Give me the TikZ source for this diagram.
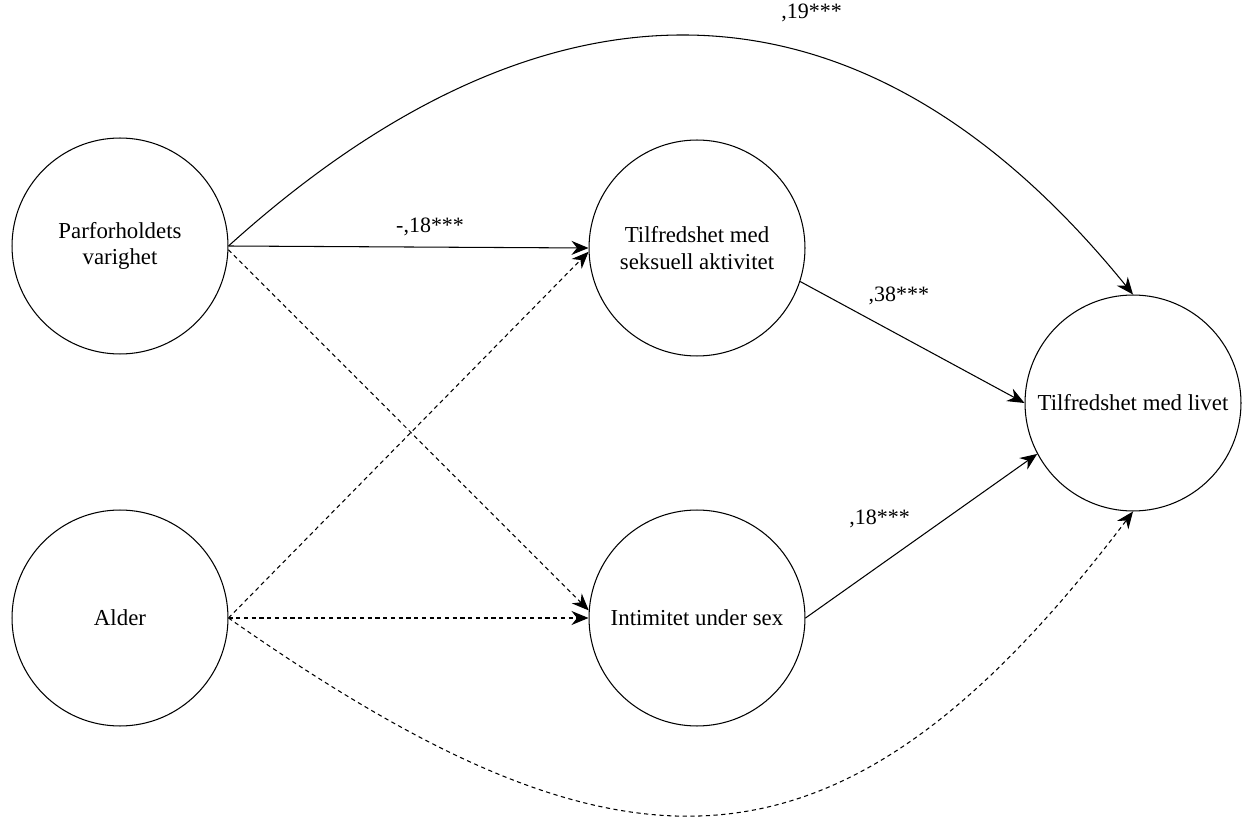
\documentclass[tikz,border=0pt]{standalone}
\usepackage{fontspec}
\setmainfont{Liberation Serif}
\usetikzlibrary{arrows.meta}

\tikzset{
  var/.style={circle,draw,line width=0.6pt,minimum size=4.32cm,inner sep=0pt,align=center,font=\fontsize{13}{15}\selectfont},
  eff/.style={line width=0.6pt,-{Stealth[length=3.4mm,width=2.8mm]}},
  ns/.style={eff,dash pattern=on 2.4pt off 2pt},
  coef/.style={font=\fontsize{12.5}{14}\selectfont,inner sep=2pt}
}

\begin{document}
\begin{tikzpicture}[x=0.02cm,y=-0.02cm]
    \useasboundingbox (0,0) rectangle (1244,817);
    % Variabler
    \node[var] (P) at (120,246) {Parforholdets\\varighet};
    \node[var] (A) at (120,618) {Alder};
    \node[var] (S) at (697,248) {Tilfredshet med\\seksuell aktivitet};
    \node[var] (I) at (697,618) {Intimitet under sex};
    \node[var] (L) at (1133,403) {Tilfredshet med livet};

    % Signifikante stier
    \draw[eff] (P.east) -- node[coef,pos=0.56,above=4pt] {-,18***} (S.west);
    \draw[eff] (P.east) .. controls (525,-22) and (844,-62) .. node[coef,pos=0.64,above=17pt] {,19***} (L.north);
    \draw[eff] (S.-18) -- node[coef,pos=0.44,above=15pt] {,38***} (L.west);
    \draw[eff] (I.east) -- node[coef,pos=0.32,above=19pt] {,18***} (L.208);

    % Ikke-signifikante stier
    \draw[ns] (P.-2) -- (I.176);
    \draw[ns] (A.east) -- (S.182);
    \draw[ns] (A.east) -- (I.west);
    \draw[ns] (A.east) .. controls (621,893) and (838,901) .. (L.south);
\end{tikzpicture}
\end{document}
